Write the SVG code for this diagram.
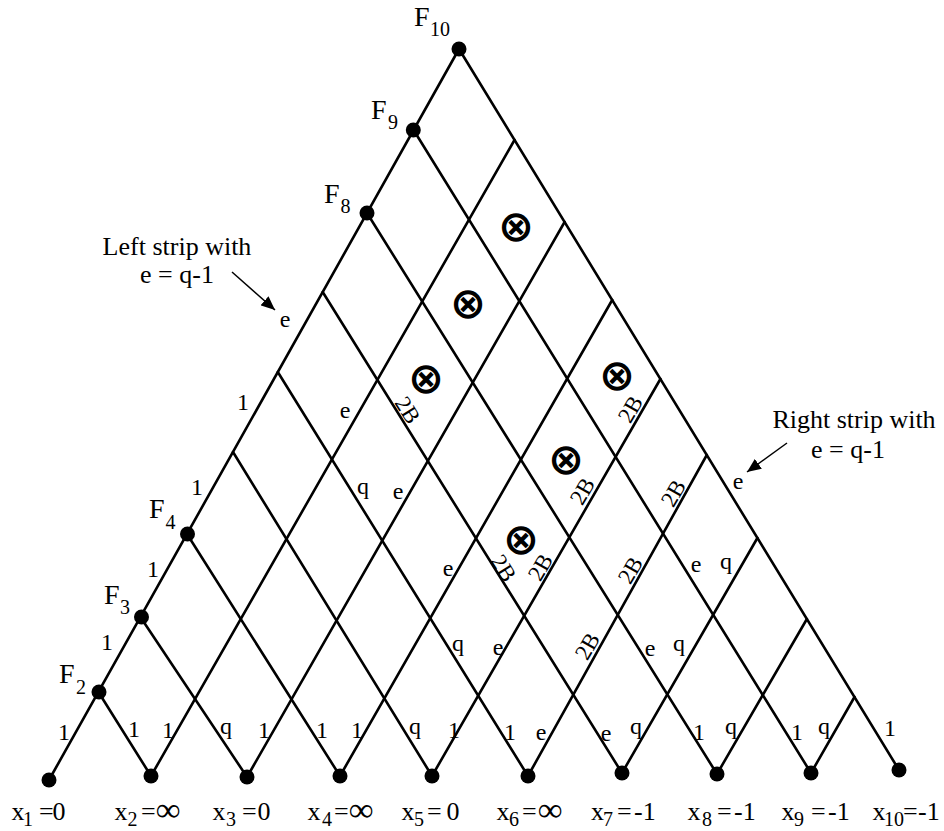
<svg xmlns="http://www.w3.org/2000/svg" width="944" height="831" viewBox="0 0 944 831">
<style>
.ln{stroke:#000;stroke-width:2.6;fill:none;stroke-linecap:round}
.dot{fill:#000}
.t{font-family:"Liberation Serif","Times New Roman",serif;font-size:26px;fill:#000}
.f{font-size:28px}
.s{font-size:20px}
.inf{font-size:34px;font-weight:bold}
.g{font-family:"Liberation Serif","Times New Roman",serif;font-size:24px;fill:#000;text-anchor:middle}
.b{font-family:"Liberation Serif","Times New Roman",serif;font-size:23px;fill:#000;text-anchor:middle}
.o{font-family:"DejaVu Sans",sans-serif;font-size:43px;font-weight:bold;fill:#000;text-anchor:middle}
.ar{stroke:#000;stroke-width:1.5;fill:none}
</style>
<defs>
<marker id="ah" markerUnits="userSpaceOnUse" markerWidth="15" markerHeight="12" refX="14" refY="6" orient="auto">
<path d="M0,0 L14,6 L0,12 z" fill="#000"/>
</marker>
</defs>
<g id="connectors">
<line class="ln" x1="49" y1="780" x2="459" y2="49"/>
<line class="ln" x1="151" y1="776" x2="514.5" y2="140"/>
<line class="ln" x1="247" y1="777" x2="564.6" y2="222"/>
<line class="ln" x1="340" y1="776" x2="612.2" y2="300"/>
<line class="ln" x1="432" y1="776" x2="660.4" y2="379"/>
<line class="ln" x1="528" y1="776" x2="706.8" y2="455"/>
<line class="ln" x1="622" y1="773" x2="757.4" y2="538"/>
<line class="ln" x1="717" y1="774" x2="806.9" y2="619"/>
<line class="ln" x1="811" y1="773" x2="854.5" y2="697"/>
<line class="ln" x1="151" y1="776" x2="98.4" y2="692"/>
<line class="ln" x1="247" y1="777" x2="140.4" y2="617"/>
<line class="ln" x1="340" y1="776" x2="187" y2="534"/>
<line class="ln" x1="432" y1="776" x2="233" y2="452"/>
<line class="ln" x1="528" y1="776" x2="277.8" y2="372"/>
<line class="ln" x1="622" y1="773" x2="322.7" y2="292"/>
<line class="ln" x1="717" y1="774" x2="367" y2="213"/>
<line class="ln" x1="811" y1="773" x2="413.6" y2="130"/>
<line class="ln" x1="899" y1="770" x2="459" y2="49"/>
<line class="ar" x1="232" y1="272" x2="275" y2="310" marker-end="url(#ah)"/>
<line class="ar" x1="787" y1="443" x2="747" y2="472" marker-end="url(#ah)"/>
</g>
<g id="x1"><circle class="dot" cx="49" cy="780" r="7.5"/><text class="t" y="820"><tspan x="11.5">x</tspan><tspan class="s" x="23" y="826">1</tspan><tspan x="39" y="820">=</tspan><tspan x="52.4">0</tspan></text></g>
<g id="x2"><circle class="dot" cx="151" cy="776" r="7.5"/><text class="t" y="820"><tspan x="114.5">x</tspan><tspan class="s" x="127.4" y="826">2</tspan><tspan x="141" y="820">=</tspan><tspan class="inf" x="156" y="821">∞</tspan></text></g>
<g id="x3"><circle class="dot" cx="247" cy="777" r="7.5"/><text class="t" y="820"><tspan x="212.5">x</tspan><tspan class="s" x="226" y="826">3</tspan><tspan x="242" y="820">=</tspan><tspan x="257.4">0</tspan></text></g>
<g id="x4"><circle class="dot" cx="340" cy="776" r="7.5"/><text class="t" y="820"><tspan x="307.5">x</tspan><tspan class="s" x="322" y="826">4</tspan><tspan x="334" y="820">=</tspan><tspan class="inf" x="349" y="821">∞</tspan></text></g>
<g id="x5"><circle class="dot" cx="432" cy="776" r="7.5"/><text class="t" y="820"><tspan x="401.5">x</tspan><tspan class="s" x="414" y="826">5</tspan><tspan x="427" y="820">=</tspan><tspan x="446.4">0</tspan></text></g>
<g id="x6"><circle class="dot" cx="528" cy="776" r="7.5"/><text class="t" y="820"><tspan x="496.5">x</tspan><tspan class="s" x="509" y="826">6</tspan><tspan x="522" y="820">=</tspan><tspan class="inf" x="538" y="821">∞</tspan></text></g>
<g id="x7"><circle class="dot" cx="622" cy="773" r="7.5"/><text class="t" y="820"><tspan x="591">x</tspan><tspan class="s" x="603" y="826">7</tspan><tspan x="617" y="820">=</tspan><tspan x="634">-1</tspan></text></g>
<g id="x8"><circle class="dot" cx="717" cy="774" r="7.5"/><text class="t" y="820"><tspan x="687.5">x</tspan><tspan class="s" x="702" y="826">8</tspan><tspan x="717" y="820">=</tspan><tspan x="734">-1</tspan></text></g>
<g id="x9"><circle class="dot" cx="811" cy="773" r="7.5"/><text class="t" y="820"><tspan x="781.5">x</tspan><tspan class="s" x="794" y="826">9</tspan><tspan x="811" y="820">=</tspan><tspan x="828">-1</tspan></text></g>
<g id="x10"><circle class="dot" cx="899" cy="770" r="7.5"/><text class="t" y="820"><tspan x="872.5">x</tspan><tspan class="s" x="884" y="826">10</tspan><tspan x="903" y="820">=</tspan><tspan x="918">-1</tspan></text></g>
<g id="F2"><circle class="dot" cx="99" cy="692" r="7.5"/><text class="t f" x="59" y="683">F<tspan class="s" x="76" y="694">2</tspan></text></g>
<g id="F3"><circle class="dot" cx="141.5" cy="617" r="7.5"/><text class="t f" x="104" y="604">F<tspan class="s" x="120" y="614">3</tspan></text></g>
<g id="F4"><circle class="dot" cx="187.5" cy="534" r="7.5"/><text class="t f" x="149" y="518">F<tspan class="s" x="165.5" y="529">4</tspan></text></g>
<g id="F8"><circle class="dot" cx="367" cy="213" r="7.5"/><text class="t f" x="324" y="203">F<tspan class="s" x="340.5" y="213">8</tspan></text></g>
<g id="F9"><circle class="dot" cx="413.3" cy="130" r="7.5"/><text class="t f" x="371" y="119">F<tspan class="s" x="388" y="129">9</tspan></text></g>
<g id="F10"><circle class="dot" cx="459" cy="49" r="7.5"/><text class="t f" x="414" y="26">F<tspan class="s" x="430" y="36">10</tspan></text></g>
<g id="left-strip-note"><text class="t" text-anchor="middle" x="177" y="255">Left strip with</text><text class="t" text-anchor="middle" x="177" y="283">e = q-1</text></g>
<g id="right-strip-note"><text class="t" text-anchor="middle" x="854" y="428">Right strip with</text><text class="t" text-anchor="middle" x="848" y="458">e = q-1</text></g>
<g id="edge-labels">
<text class="g" x="64" y="740">1</text>
<text class="g" x="107" y="650">1</text>
<text class="g" x="153" y="577">1</text>
<text class="g" x="197" y="495">1</text>
<text class="g" x="243" y="410">1</text>
<text class="g" x="285" y="327">e</text>
<text class="g" x="134" y="737">1</text>
<text class="g" x="168" y="738">1</text>
<text class="g" x="226" y="734">q</text>
<text class="g" x="264" y="738">1</text>
<text class="g" x="322" y="738">1</text>
<text class="g" x="357" y="738">1</text>
<text class="g" x="415" y="734">q</text>
<text class="g" x="454" y="738">1</text>
<text class="g" x="510" y="740">1</text>
<text class="g" x="541" y="740">e</text>
<text class="g" x="606" y="741">e</text>
<text class="g" x="636" y="734">q</text>
<text class="g" x="699" y="740">1</text>
<text class="g" x="731" y="734">q</text>
<text class="g" x="797" y="740">1</text>
<text class="g" x="824" y="734">q</text>
<text class="g" x="890" y="736">1</text>
<text class="g" x="345" y="418">e</text>
<text class="g" x="363" y="494">q</text>
<text class="g" x="398" y="499">e</text>
<text class="g" x="448" y="576">e</text>
<text class="g" x="458" y="651">q</text>
<text class="g" x="498" y="655">e</text>
<text class="g" x="650" y="656">e</text>
<text class="g" x="679" y="651">q</text>
<text class="g" x="696" y="572">e</text>
<text class="g" x="726" y="569">q</text>
<text class="g" x="738" y="489">e</text>
<text class="b" transform="translate(408,410) rotate(58)" y="8">2B</text>
<text class="b" transform="translate(504,568) rotate(58)" y="8">2B</text>
<text class="b" transform="translate(630,409) rotate(-60)" y="8">2B</text>
<text class="b" transform="translate(582,491) rotate(-60)" y="8">2B</text>
<text class="b" transform="translate(673,493) rotate(-60)" y="8">2B</text>
<text class="b" transform="translate(540,567) rotate(-60)" y="8">2B</text>
<text class="b" transform="translate(630,570) rotate(-60)" y="8">2B</text>
<text class="b" transform="translate(587,646) rotate(-60)" y="8">2B</text>
</g>
<g id="crossings">
<text class="o" x="516" y="241">⊗</text>
<text class="o" x="468" y="318">⊗</text>
<text class="o" x="426" y="393">⊗</text>
<text class="o" x="617" y="390">⊗</text>
<text class="o" x="566" y="474">⊗</text>
<text class="o" x="521" y="554">⊗</text>
</g>
</svg>
